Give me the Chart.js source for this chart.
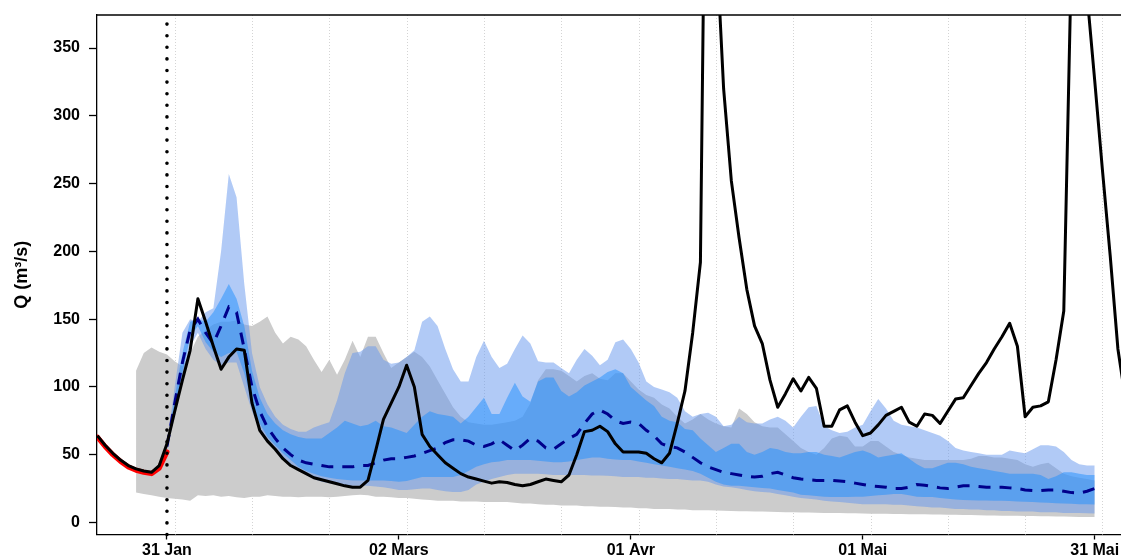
<!DOCTYPE html>
<html>
<head>
<meta charset="utf-8">
<script src="https://cdn.jsdelivr.net/npm/chart.js@4"></script>
<style>
  html, body { margin: 0; padding: 0; background: #fff; }
  #wrap { width: 1121px; height: 560px; }
</style>
</head>
<body>
<div id="wrap"><canvas id="c"></canvas></div>
<script>
// days are counted from 31 Jan (the forecast date = day 0)
const forecastDay = 0;
const obsStart = -9;
const simStart = -9;
const climStart = -4;
const fcStart = 0;

const tickDays = [0, 30, 60, 90, 120];
const tickLabels = ["31 Jan", "02 Mars", "01 Avr", "01 Mai", "31 Mai"];
const gridDays = [1, 11, 21, 31, 41, 51, 61, 71, 81, 91, 101, 111, 121];
const yTicks = [0, 50, 100, 150, 200, 250, 300, 350];

// simulated flow before the forecast (red)
const simulated = [63, 56, 50, 45, 41, 38.5, 37, 36, 40, 52];

// observed flow (black)
const observed = [
  64, 57, 51, 46, 42, 39.5, 38, 37, 42, 58,
  82, 105, 127, 165, 148, 130, 113, 122, 128, 127,
  88, 68, 60, 54, 47, 42, 39, 36, 33, 31.5,
  30, 28.5, 27, 26, 26, 31, 53, 76, 88, 100,
  116, 100, 65, 56, 50, 44, 40, 36, 33.5, 32,
  30.5, 29, 30, 29.5, 28, 27, 28, 30, 32, 31,
  30, 35, 50, 67, 68, 71, 67, 58, 52, 52,
  52, 51, 47, 44, 51, 73, 97, 140, 192, 700,
  435, 320, 252, 210, 172, 145, 132, 105, 85, 95,
  106, 97, 107, 99, 71, 71, 83, 86, 74, 64,
  66, 72, 79, 82, 85, 74, 71, 80, 79, 73,
  82, 91, 92, 101, 110, 118, 128, 137, 147, 130,
  78, 85, 86, 89, 120, 156, 420, 520, 390, 326,
  260, 197, 128, 90
];

// climatological envelope (grey)
const climLow = [
  22, 21, 20, 19, 18,
  17.5, 17, 16, 20, 19.5, 20, 19, 19.5, 18.5, 18,
  19, 19, 20, 19.5, 19, 19, 18.5, 19, 19, 19,
  18.5, 19, 19.5, 20, 20.5, 20, 19, 19, 18.5, 18,
  18, 17.5, 17, 16.5, 16, 16, 16, 15.5, 15.5, 15.5,
  15, 15, 15, 15, 14.5, 14, 14, 13.5, 13, 13,
  12.5, 12.5, 12.5, 12, 12, 11.5, 11.5, 11.3, 11, 11,
  10.5, 10.5, 10, 10, 10, 9.5, 9.5, 9, 9, 9,
  8.8, 8.6, 8.5, 8.3, 8.2, 8, 8, 7.8, 7.7, 7.6,
  7.5, 7.4, 7.3, 7.2, 7, 7, 6.9, 6.8, 6.7, 6.6,
  6.5, 6.5, 6.4, 6.3, 6.2, 6.1, 6, 6, 5.9, 5.8,
  5.7, 5.6, 5.5, 5.4, 5.3, 5.2, 5.1, 5, 5, 4.9,
  4.8, 4.7, 4.6, 4.5, 4.4, 4.3, 4.2, 4.1, 4, 4
];
const climHigh = [
  112, 125, 129, 126, 124,
  119, 115, 125, 137, 142, 146, 148, 148, 149, 146,
  145, 148, 152, 140, 132, 137, 135, 130, 120, 111,
  120, 109, 120, 134, 122, 137, 137, 125, 114, 118,
  122, 126, 122, 115, 105, 95, 85, 78, 74, 73,
  72, 72, 73, 74, 75, 78, 88, 105, 113, 113,
  112, 108, 104, 108, 110, 106, 105, 110, 110, 104,
  98, 94, 92, 87, 84, 78, 73, 76, 80, 76,
  73, 71, 70, 84, 80, 74, 71, 70, 70, 65,
  60, 55, 52, 50, 55, 62, 64, 63, 56, 56,
  60, 60, 56, 52, 50, 48, 47, 46, 46, 46,
  46, 46, 46, 47, 49, 49, 48, 48, 47, 46,
  43, 41, 43, 44, 40, 36, 34, 33, 32, 31
];

// ensemble forecast quantiles
const q10 = [
  54, 78, 105, 130, 140, 128, 120, 116, 118, 118, 100,
  82, 68, 59, 53, 48, 43, 39, 35, 32, 30,
  29, 28, 27, 27, 27, 27, 26.5, 26, 25, 24,
  24, 24.5, 25, 25, 24, 23, 22.5, 22.4, 24, 28,
  30, 32, 33.5, 35, 36, 36, 36, 36, 35.5, 35,
  35, 35, 35, 35, 34.7, 34.7, 34.5, 34, 33.5, 33.5,
  33.5, 33, 33, 32.5, 32, 32, 31.5, 31, 31, 30,
  28, 26.5, 26, 25, 24, 23, 22.5, 22, 21, 20,
  19, 18, 17.5, 17, 16, 15.5, 15, 14.5, 14, 13.5,
  13.5, 13.5, 13.5, 13, 13, 12.5, 12, 11.5, 11, 11,
  10.5, 10, 10, 9.5, 9.5, 9, 9, 8.5, 8.5, 8,
  8, 8, 7.5, 7.5, 7.5, 7, 7, 7, 6.8, 6.6
];
const q25 = [
  55, 82, 110, 137, 145, 133, 126, 122, 125, 126, 110,
  88, 73, 63, 57, 51, 46, 41, 38, 36, 34,
  33, 32, 31.5, 31, 31, 31, 31, 31, 30.5, 30,
  30.5, 32, 33.5, 33.5, 33.5, 33.5, 33.5, 35, 38, 41,
  43, 44.5, 45, 46, 46, 46, 46, 45.5, 45, 44.5,
  44.5, 45, 46, 47, 48, 48, 47, 46.5, 46, 46,
  45, 44, 43, 42, 41, 40, 39, 38, 36, 33,
  30, 28, 27, 27, 26.5, 26, 25.5, 25, 24, 23,
  22, 20.5, 20, 19.5, 19, 18.7, 18.7, 18.7, 19, 19,
  19.5, 20, 20.5, 21, 21, 20, 19, 18.7, 18.7, 18,
  17.5, 17, 16.5, 16.3, 16.2, 16.2, 16, 16, 15.8, 15.5,
  15.3, 15, 14.8, 14.5, 14.2, 14, 13.8, 13.5, 13.4, 13.3
];
const q50 = [
  56, 88, 118, 142, 150, 140, 132, 145, 159, 155, 128,
  100, 82, 70, 62, 55, 50, 46, 44, 43, 42,
  41, 41, 41, 41, 42, 42, 44, 46, 47, 47,
  48, 49, 51, 53, 55, 59, 61, 61, 60, 57,
  56, 58, 61, 57, 53, 57, 62, 60, 55, 54,
  58, 62, 65, 73, 80, 83, 80, 75, 73, 74,
  73, 68, 64, 58, 56, 55, 52, 48, 44, 41,
  39, 37, 36, 35, 34, 33.5, 34, 36, 37, 35,
  33, 32, 31.5, 31, 31, 31, 30.5, 30, 29, 28,
  27, 26.5, 26, 25, 25, 26, 28, 27.5, 26.5, 25.5,
  25, 26, 27, 27, 26.5, 26, 26, 26, 25.5, 25,
  24, 23.6, 23.5, 24, 24, 23, 22, 21.6, 23, 25
];
const q75 = [
  57, 92, 125, 148, 150, 148, 155, 165, 176, 165, 145,
  112, 92, 80, 73, 68, 65, 63, 62, 62, 62,
  66, 70, 75, 73, 71, 72, 75, 71, 70, 68,
  66, 72, 78, 82, 80, 79, 78, 73, 78, 85,
  92, 80, 80, 92, 103, 93, 89, 104, 107, 107,
  97, 93, 96, 101, 104, 107, 111, 113, 110, 100,
  95, 90, 86, 78, 75, 74, 69, 68, 62, 57,
  52, 55, 58, 58, 52, 50, 52, 55, 54, 52,
  51, 51, 52, 52, 50, 49, 48, 50, 52, 53,
  51, 48, 49, 50, 51, 47, 43, 40, 40, 42,
  44, 44, 43, 41, 40, 39, 38, 37, 36, 36,
  36, 36, 35, 32, 34, 37, 37, 36, 35, 35
];
const q90 = [
  58, 100, 140, 150, 148, 155, 158, 200, 257, 240, 176,
  125, 100, 87, 78, 72, 69, 67, 67, 70, 72,
  74, 90, 110, 125, 126, 130, 130, 120, 117, 118,
  122, 127, 148, 152, 145, 128, 113, 104, 104, 122,
  134, 122, 114, 117, 128, 138, 132, 119, 118, 118,
  114, 110, 120, 128, 123, 116, 120, 133, 135, 128,
  118, 104, 100, 98, 96, 92, 82, 78, 80, 81,
  78, 71, 72, 78, 74, 73, 73, 76, 78, 75,
  70, 78, 85, 86, 71, 68, 66, 67, 70, 72,
  82, 91, 84, 75, 72, 71, 70, 68, 66, 64,
  60, 55, 53, 52, 51, 50, 50, 50, 53, 52,
  51, 54, 57, 57, 56, 52, 46, 43, 42, 42
];

const toPoints = (start, arr) => arr.map((v, i) => ({ x: start + i, y: v }));

const band = (data, start, color, fill, order) => ({
  data: toPoints(start, data),
  borderWidth: 0,
  borderColor: "rgba(0,0,0,0)",
  backgroundColor: color,
  fill: fill,
  pointRadius: 0,
  order: order
});

// dotted grid + forecast date line + top frame
const extras = {
  id: "extras",
  beforeDatasetsDraw(chart) {
    const { ctx, chartArea: a, scales: { x } } = chart;
    ctx.save();
    ctx.strokeStyle = "#d4d4d4";
    ctx.lineWidth = 1;
    ctx.setLineDash([1, 2]);
    gridDays.forEach(d => {
      const px = Math.round(x.getPixelForValue(d)) + 0.5;
      ctx.beginPath();
      ctx.moveTo(px, a.top);
      ctx.lineTo(px, a.bottom);
      ctx.stroke();
    });
    ctx.restore();
  },
  afterDatasetsDraw(chart) {
    const { ctx, chartArea: a, scales: { x } } = chart;
    const px = x.getPixelForValue(forecastDay);
    ctx.save();
    ctx.strokeStyle = "#000";
    ctx.lineWidth = 3.6;
    ctx.lineCap = "round";
    ctx.setLineDash([0, 11.6]);
    ctx.beginPath();
    ctx.moveTo(px, a.bottom);
    ctx.lineTo(px, a.top + 3);
    ctx.stroke();
    ctx.setLineDash([]);
    ctx.lineCap = "butt";
    ctx.lineWidth = 1.3;
    ctx.beginPath();
    ctx.moveTo(a.left, a.top);
    ctx.lineTo(a.right + 2, a.top);
    ctx.stroke();
    ctx.restore();
  }
};

Chart.defaults.font.family = "'Liberation Sans', Arial, sans-serif";

new Chart(document.getElementById("c"), {
  type: "line",
  data: {
    datasets: [
      band(climLow, climStart, "rgba(0,0,0,0)", false, 10),
      band(climHigh, climStart, "rgb(204,204,204)", "-1", 9),
      band(q10, fcStart, "rgba(0,0,0,0)", false, 8),
      band(q90, fcStart, "rgba(100,149,237,0.5)", "-1", 7),
      band(q25, fcStart, "rgba(0,0,0,0)", false, 6),
      band(q75, fcStart, "rgba(30,144,255,0.5)", "-1", 5),
      {
        data: toPoints(fcStart, q50),
        borderColor: "#00008b",
        borderWidth: 3,
        borderDash: [12, 9],
        pointRadius: 0,
        fill: false,
        order: 4
      },
      {
        data: toPoints(simStart, simulated),
        borderColor: "#ff0000",
        borderWidth: 5,
        borderJoinStyle: "round",
        borderCapStyle: "round",
        pointRadius: 0,
        fill: false,
        order: 3
      },
      {
        data: toPoints(obsStart, observed),
        borderColor: "#000",
        borderWidth: 3,
        borderJoinStyle: "round",
        pointRadius: 0,
        fill: false,
        order: 2
      }
    ]
  },
  options: {
    responsive: true,
    maintainAspectRatio: false,
    animation: false,
    layout: { padding: { top: 15, left: 0, right: 0, bottom: 0 } },
    plugins: {
      legend: { display: false },
      tooltip: { enabled: false }
    },
    scales: {
      x: {
        type: "linear",
        min: -9.05,
        max: 123.4,
        afterBuildTicks: s => { s.ticks = tickDays.map(v => ({ value: v })); },
        afterFit: s => { s.height = 25.5; s.paddingLeft = 0; s.paddingRight = 0; },
        grid: { drawOnChartArea: false, tickLength: 5, tickColor: "#000", tickWidth: 1.3 },
        border: { color: "#000", width: 1.3 },
        ticks: {
          color: "#000",
          font: { size: 16, weight: "bold" },
          padding: 1,
          maxRotation: 0,
          autoSkip: false,
          callback: v => tickLabels[tickDays.indexOf(v)]
        }
      },
      y: {
        type: "linear",
        min: -8.9,
        max: 374.4,
        afterBuildTicks: s => { s.ticks = yTicks.map(v => ({ value: v })); },
        afterFit: s => { s.width = 97; s.paddingTop = 0; s.paddingBottom = 0; },
        grid: { drawOnChartArea: false, tickLength: 8, tickColor: "#000", tickWidth: 1.3 },
        border: { color: "#000", width: 1.3 },
        ticks: { color: "#000", font: { size: 16, weight: "bold" }, padding: 9 },
        title: {
          display: true,
          text: "Q (m³/s)",
          color: "#000",
          font: { size: 18, weight: "bold" },
          padding: { top: 11, bottom: 0 }
        }
      }
    }
  },
  plugins: [extras]
});
</script>
</body>
</html>
